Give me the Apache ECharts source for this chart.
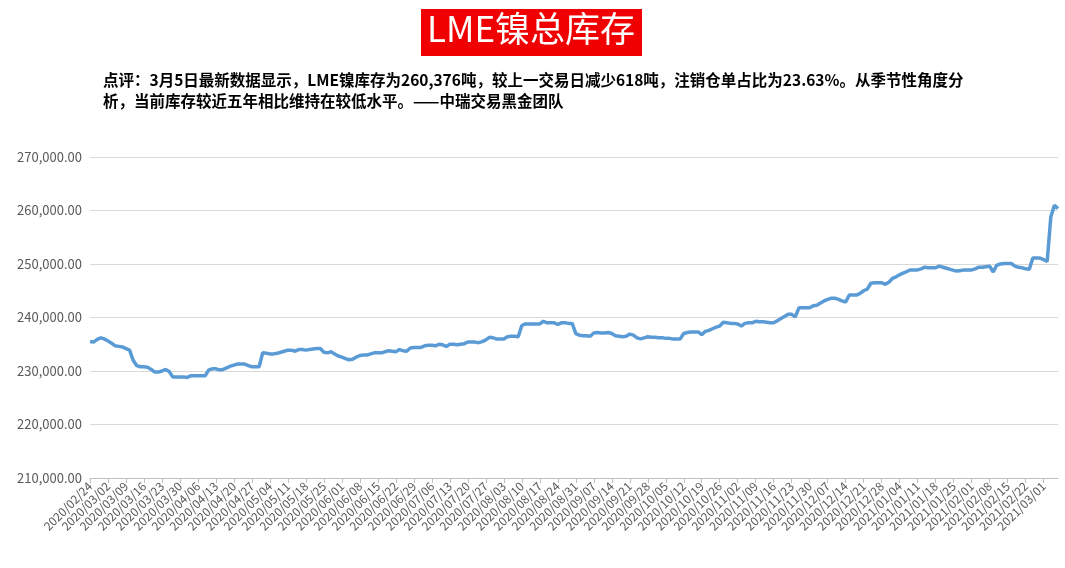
<!DOCTYPE html>
<html><head><meta charset="utf-8">
<script src="https://cdn.jsdelivr.net/npm/echarts@6/dist/echarts.min.js"></script>
<style>html,body{margin:0;padding:0;background:#fff}#c{width:1065px;height:568px}</style>
</head><body><div id="c"></div>
<script>
const titleText = 'LME镍总库存';
const commentLines = ['点评：3月5日最新数据显示，LME镍库存为260,376吨，较上一交易日减少618吨，注销仓单占比为23.63%。从季节性角度分', '析，当前库存较近五年相比维持在较低水平。——中瑞交易黑金团队'];
const endDate = '2021-03-05';
const yTicks = [210000, 270000, 10000];
// weekly blocks of 5 trading days (thousand tonnes)
const stock = [
235.5,235.4,235.9,236.2,236.0, 235.6,235.2,234.7,234.6,234.5, 234.2,233.9,232.0,231.0,230.8,
230.8,230.7,230.3,229.8,229.8, 230.0,230.3,229.9,228.9,228.9, 228.9,228.9,228.8,229.1,229.1,
229.1,229.1,229.1,230.2,230.4, 230.4,230.2,230.3,230.6,230.9, 231.1,231.3,231.3,231.3,231.0,
230.8,230.8,230.8,233.4,233.3, 233.2,233.2,233.3,233.5,233.7, 233.9,233.9,233.7,234.0,234.0,
233.9,234.0,234.1,234.2,234.2, 233.5,233.4,233.6,233.2,232.8, 232.6,232.3,232.1,232.2,232.6,
232.9,233.0,233.0,233.2,233.4, 233.4,233.4,233.6,233.8,233.7, 233.6,234.0,233.8,233.7,234.3,
234.4,234.4,234.4,234.7,234.8, 234.8,234.7,235.0,234.9,234.6, 235.0,235.0,234.9,235.0,235.1,
235.4,235.4,235.4,235.3,235.5, 235.8,236.3,236.2,236.0,236.0, 236.0,236.4,236.5,236.5,236.4,
238.5,238.8,238.8,238.8,238.8, 238.8,239.3,239.0,239.0,239.0, 238.7,239.0,239.0,238.9,238.9,
237.0,236.7,236.6,236.6,236.5, 237.1,237.2,237.1,237.1,237.2, 237.0,236.6,236.5,236.4,236.5,
236.9,236.7,236.2,236.0,236.2, 236.4,236.3,236.3,236.2,236.2, 236.1,236.1,236.0,236.0,236.0,
237.0,237.2,237.3,237.3,237.3, 236.8,237.4,237.6,237.9,238.2, 238.4,239.1,239.0,238.9,238.9,
238.8,238.4,238.9,239.0,239.0, 239.3,239.2,239.2,239.1,239.0, 239.0,239.4,239.8,240.2,240.6,
240.6,240.1,241.8,241.8,241.8, 241.8,242.2,242.3,242.7,243.1, 243.4,243.6,243.6,243.4,243.1,
242.9,244.2,244.2,244.2,244.5, 245.0,245.3,246.4,246.5,246.5, 246.5,246.2,246.6,247.3,247.6,
248.0,248.3,248.6,248.9,248.9, 248.9,249.1,249.4,249.3,249.3, 249.3,249.6,249.4,249.2,249.0,
248.8,248.7,248.8,248.9,248.9, 248.9,249.1,249.4,249.4,249.5, 249.6,248.5,249.8,250.0,250.1,
250.1,250.1,249.6,249.4,249.3, 249.1,249.0,251.1,251.1,251.1, 250.8,250.5,258.8,260.994,260.376
];
const dates = [], mondays = [];
{ let d = new Date(endDate + 'T12:00:00Z');
  while (dates.length < stock.length) {
    const wd = d.getUTCDay();
    if (wd !== 0 && wd !== 6) {
      dates.unshift(d.getUTCFullYear() + '/' + String(d.getUTCMonth()+1).padStart(2,'0') + '/' + String(d.getUTCDate()).padStart(2,'0'));
      mondays.unshift(wd === 1);
    }
    d = new Date(d.getTime() - 86400000);
  } }
const isMon = (i) => mondays[i];
const chart = echarts.init(document.getElementById('c'));
const fmt = v => v.toLocaleString('en-US', {minimumFractionDigits:2, maximumFractionDigits:2});
chart.setOption({
  animation:false,
  backgroundColor:'#fff',
  textStyle:{fontFamily:'"Noto Sans CJK SC", sans-serif'},
  graphic:[
    {type:'rect', left:421, top:9, shape:{width:221, height:47}, style:{fill:'#f00000'}},
    {type:'text', left:427, top:11, style:{text:titleText, fill:'#fff', font:'35px "Noto Sans CJK SC"'}},
    {type:'text', left:103, top:70, style:{text:commentLines.join('\n'), fill:'#000', lineHeight:21, font:'bold 15.5px "Noto Sans CJK SC"'}}
  ],
  grid:{left:90, right:7, top:157, bottom:90},
  xAxis:{type:'category', data:dates, boundaryGap:false,
    axisLine:{lineStyle:{color:'#bfbfbf'}},
    axisTick:{interval:isMon, lineStyle:{color:'#bfbfbf'}},
    axisLabel:{interval:isMon, rotate:45, fontSize:12, color:'#595959', margin:6}},
  yAxis:{type:'value', min:yTicks[0], max:yTicks[1], interval:yTicks[2],
    axisLine:{show:false}, axisTick:{show:false},
    splitLine:{lineStyle:{color:'#d9d9d9'}},
    axisLabel:{formatter:fmt, fontSize:13, color:'#595959'}},
  series:[{type:'line', data:stock.map(v=>Math.round(v*1000)), showSymbol:false,
    lineStyle:{color:'#5b9bd5', width:3.5}, itemStyle:{color:'#5b9bd5'}}]
});
</script></body></html>
